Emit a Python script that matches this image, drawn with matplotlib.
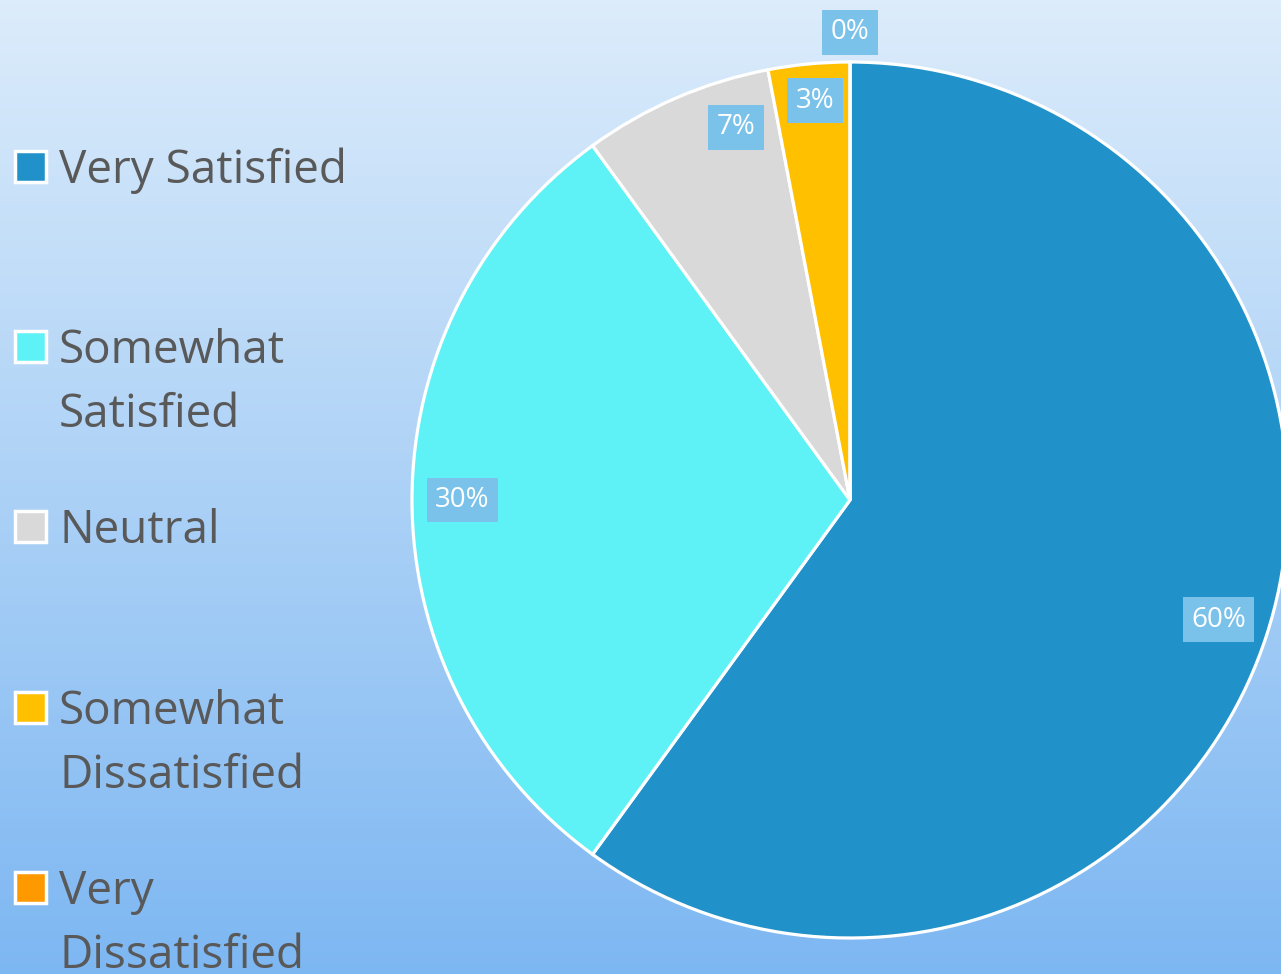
import numpy as np
import matplotlib
matplotlib.use("Agg")
import matplotlib.pyplot as plt
from matplotlib.patches import Rectangle

# 数据
categories = ["Very Satisfied", "Somewhat\nSatisfied", "Neutral", "Somewhat\nDissatisfied", "Very\nDissatisfied"]
values = [60, 30, 7, 3, 0]
colors = ["#2191c9", "#5ef1f5", "#d9d9d9", "#ffc000", "#ff9900"]

plt.rcParams['font.family'] = ['Open Sans', 'DejaVu Sans']

fig = plt.figure(figsize=(12.81, 9.74), dpi=100)

# 背景渐变
bg = fig.add_axes([0, 0, 1, 1])
grad = np.linspace(0, 1, 256).reshape(-1, 1)
top = np.array([0xdc, 0xec, 0xfb]) / 255
bot = np.array([0x7d, 0xb7, 0xf2]) / 255
img = top + (bot - top) * grad[:, :, None]
bg.imshow(img, aspect='auto', extent=[0, 1, 0, 1])
bg.set_axis_off()

# 饼图
W, H = 1281, 974
cx, cy, r = 850, 500, 438
ax = fig.add_axes([(cx - r) / W, (H - cy - r) / H, 2 * r / W, 2 * r / H])
wedges, texts, autotexts = ax.pie(
    values, colors=colors, startangle=90, counterclock=False,
    autopct='%1.0f%%', pctdistance=0.885,
    wedgeprops=dict(edgecolor='white', linewidth=2.3),
    textprops=dict(color='white', fontsize=20))
for t in autotexts:
    t.set_bbox(dict(facecolor='#7bc2ea', edgecolor='none', pad=6))
# 标签位置微调
a = np.deg2rad(107)
autotexts[2].set_position((0.89 * np.cos(a), 0.89 * np.sin(a)))
a = np.deg2rad(95)
autotexts[3].set_position((0.915 * np.cos(a), 0.915 * np.sin(a)))
autotexts[-1].set_position((0, 1.068))
ax.set_xlim(-1, 1)
ax.set_ylim(-1, 1)
ax.set_axis_off()

# 图例
ys = [167, 347, 527, 708, 888]
for name, c, y in zip(categories, colors, ys):
    fig.patches.append(Rectangle((15 / W, (H - y - 15) / H), 31 / W, 31 / H,
                                 facecolor=c, edgecolor='white', linewidth=2.5,
                                 transform=fig.transFigure, figure=fig))
    fig.text(59 / W, (H - y + 19) / H, name, fontsize=33, color='#595959',
             va='top', ha='left', linespacing=1.52,
             transform=fig.transFigure)

fig.savefig('out.png', dpi=100)
